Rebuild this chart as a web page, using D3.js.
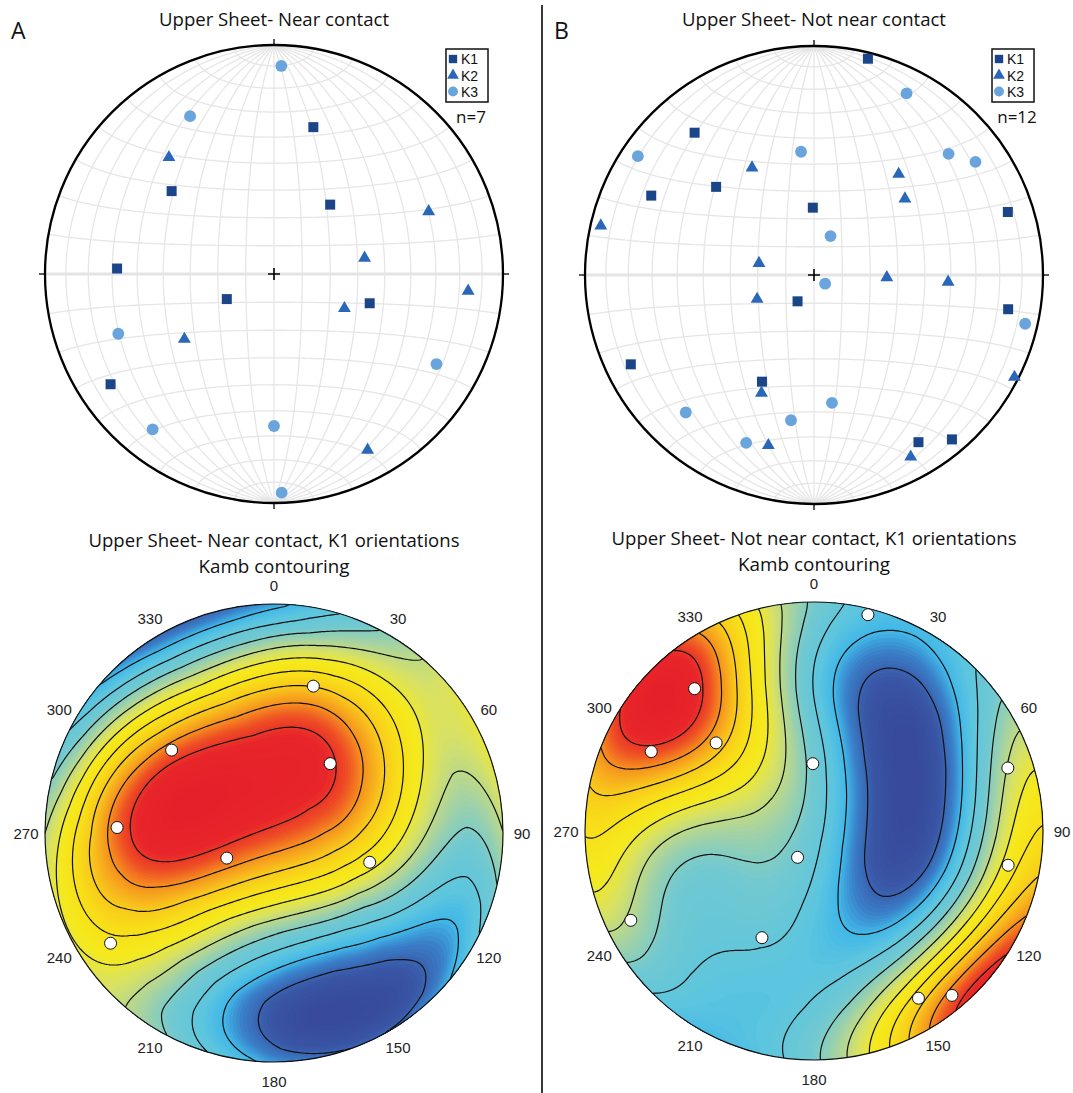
<!DOCTYPE html>
<html>
<head>
<meta charset="utf-8">
<script src="https://cdn.jsdelivr.net/npm/d3@7"></script>
<style>
  body { margin: 0; background: #fff; }
  svg { display: block; }
</style>
</head>
<body>
<svg id="fig" width="1073" height="1093"></svg>
<script>
// AMS principal axes as [trend, plunge] in degrees, lower-hemisphere.
// Upper sheet, near contact (n = 7)
const nearK1 = [[15,34],[309,42],[39,58],[272,32],[242,71],[107,54],[236,15]];
const nearK2 = [[318,32],[68,28],[80,57],[95,16],[116,62],[234,50],[152,14]];
const nearK3 = [[2,10],[332,23],[249,28],[119,20],[218,15],[180,34],[178,5]];

// Upper sheet, not near contact (n = 12)
const farK1 = [[14,3],[320,20],[296,22],[312,42],[359,66],[72,12],[212,79],[100,15],[244,12],[206,47],[148,15],[140,7]];
const farK2 = [[283,5],[330,45],[40,42],[50,47],[282,70],[92,64],[93,41],[247,68],[204,43],[117,2],[195,24],[152,11]];
const farK3 = [[27,12],[304,8],[354,45],[48,22],[55,15],[23,75],[128,85],[103,6],[223,19],[172,43],[189,36],[202,22]];

const azimuthLabels = [0, 30, 60, 90, 120, 150, 180, 210, 240, 270, 300, 330];
const seriesNames = ["K1", "K2", "K3"];

const W = 1073, H = 1093;
const svg = d3.select("#fig");
svg.append("rect").attr("width", W).attr("height", H).attr("fill", "#fff");

const RAD = Math.PI / 180;
const TITLE_FONT = "'Open Sans', 'Noto Sans', sans-serif";
const LABEL_FONT = "'Liberation Sans', Arial, sans-serif";
const LEGEND_FONT = "'Liberation Sans Narrow', 'Liberation Sans', sans-serif";
const markerStyle = {
  K1: { type: d3.symbolSquare, size: 100, fill: "#1b4589" },
  K2: { type: d3.symbolTriangle, size: 72, fill: "#2b67b9" },
  K3: { type: d3.symbolCircle, size: 110, fill: "#69a5dc" }
};

// unit vector (east, north, down) of a line
function toVec(trend, plunge) {
  const t = trend * RAD, p = plunge * RAD;
  return [Math.cos(p) * Math.sin(t), Math.cos(p) * Math.cos(t), Math.sin(p)];
}
// a line on the pole-centred (lower hemisphere) equal-area projection
const lineToGeo = ([trend, plunge]) => [180 - trend, plunge];

function projections(cx, cy, R) {
  const s = R / Math.SQRT2;
  // equatorial aspect: Schmidt net graticule
  const net = d3.geoAzimuthalEqualArea().rotate([0, 0]).clipAngle(90)
    .scale(s).translate([cx, cy]).precision(0.1);
  // polar aspect: plotting lines by trend/plunge
  const lower = d3.geoAzimuthalEqualArea().rotate([0, -90]).clipAngle(90)
    .scale(s).translate([cx, cy]);
  return { net, lower };
}

let clipId = 0;

// ---------- Schmidt net with K1/K2/K3 axes ----------
function drawNet({ cx, cy, R, sets, n, title, letter, legend, titleLen }) {
  const { net, lower } = projections(cx, cy, R);
  const g = svg.append("g");
  const path = d3.geoPath(net);

  const grat = d3.geoGraticule()
    .extentMinor([[-180, -90], [180, 90]])
    .extentMajor([[-180, -90], [180, 90]])
    .step([10, 10]).stepMajor([90, 360]).precision(1);
  g.append("path").datum(grat()).attr("d", path)
    .attr("fill", "none").attr("stroke", "#e6e6e6").attr("stroke-width", 1.3);

  // equator drawn a little heavier
  g.append("path")
    .datum({ type: "LineString", coordinates: [[-90, 0], [0, 0], [90, 0]] })
    .attr("d", path).attr("fill", "none").attr("stroke", "#e4e4e4").attr("stroke-width", 3.2);

  // primitive circle, N/E/S/W ticks and centre cross
  g.append("circle").attr("cx", cx).attr("cy", cy).attr("r", R)
    .attr("fill", "none").attr("stroke", "#000").attr("stroke-width", 2.3);
  const tk = 6;
  [[0, -1], [1, 0], [0, 1], [-1, 0]].forEach(([ux, uy]) => {
    g.append("line")
      .attr("x1", cx + ux * (R - 1)).attr("y1", cy + uy * (R - 1))
      .attr("x2", cx + ux * (R + tk)).attr("y2", cy + uy * (R + tk))
      .attr("stroke", "#000").attr("stroke-width", 1.3);
  });
  g.append("path").attr("d", `M${cx - 6},${cy}H${cx + 6}M${cx},${cy - 6}V${cy + 6}`)
    .attr("stroke", "#000").attr("stroke-width", 1.6);

  // markers
  sets.forEach((pts, i) => {
    const st = markerStyle[seriesNames[i]];
    const shape = d3.symbol().type(st.type).size(st.size)();
    g.append("g").selectAll("path").data(pts).join("path")
      .attr("transform", d => { const [x, y] = lower(lineToGeo(d)); return `translate(${x},${y})`; })
      .attr("d", shape).attr("fill", st.fill);
  });

  // title and panel letter
  g.append("text").attr("x", cx).attr("y", 26).attr("text-anchor", "middle")
    .attr("font-family", TITLE_FONT).attr("font-size", 18).attr("fill", "#111")
    .attr("textLength", titleLen).attr("lengthAdjust", "spacingAndGlyphs").text(title);
  g.append("text").attr("x", letter.x).attr("y", 39)
    .attr("font-family", TITLE_FONT).attr("font-size", 23).attr("fill", "#111").text(letter.t);

  // legend box
  const lg = g.append("g").attr("transform", `translate(${legend.x},${legend.y})`);
  lg.append("rect").attr("width", 42).attr("height", 53)
    .attr("fill", "#fff").attr("stroke", "#111").attr("stroke-width", 1.5);
  const legendSize = [70, 60, 78];
  seriesNames.forEach((name, i) => {
    const st = markerStyle[name];
    const yy = 10 + i * 16.3;
    lg.append("path").attr("transform", `translate(7,${yy})`)
      .attr("d", d3.symbol().type(st.type).size(legendSize[i])()).attr("fill", st.fill);
    lg.append("text").attr("x", 15).attr("y", yy + 5.2)
      .attr("font-family", LEGEND_FONT).attr("font-size", 14).attr("fill", "#111").text(name);
  });
  g.append("text").attr("x", legend.x + 25).attr("y", 123).attr("text-anchor", "middle")
    .attr("font-family", TITLE_FONT).attr("font-size", 17).attr("fill", "#111").text(`n=${n}`);
}

// ---------- exponential Kamb density of K1 axes ----------
const densityColor = d3.scaleLinear()
  .domain([0, 0.07, 0.13, 0.18, 0.24, 0.34, 0.42, 0.5, 0.57, 0.66, 0.74, 0.82, 0.88, 0.93, 1])
  .range(["#37499b", "#3a56a6", "#3a7fc8", "#40b8e8", "#5cc5df", "#72c9d0", "#a8d3a0",
          "#d9e263", "#f5e91d", "#f8de19", "#f8c61c", "#f5901f", "#ee4c25", "#e8262a", "#e6202a"])
  .interpolate(d3.interpolateRgb).clamp(true);

function drawKamb({ cx, cy, R, axes, title1, title2, len1, len2 }) {
  const { lower } = projections(cx, cy, R);
  const g = svg.append("g");
  const id = "clip" + (clipId++);
  svg.append("defs").append("clipPath").attr("id", id)
    .append("circle").attr("cx", cx).attr("cy", cy).attr("r", R);

  // sample the counting function on a grid covering the net
  const step = 2.5, pad = 3 * step;
  const x0 = cx - R - pad, y0 = cy - R - pad;
  const nx = Math.ceil((2 * R + 2 * pad) / step) + 1;
  const vecs = axes.map(d => toVec(d[0], d[1]));
  const n = axes.length, sigma = 3;
  const kk = 2 * (1 + n / (sigma * sigma));
  const vals = new Array(nx * nx);
  const lim = R * 0.999;
  for (let j = 0; j < nx; j++) {
    for (let i = 0; i < nx; i++) {
      let dx = x0 + i * step - cx, dy = y0 + j * step - cy;
      const d = Math.hypot(dx, dy);
      if (d > lim) { dx *= lim / d; dy *= lim / d; }
      const [lon, lat] = lower.invert([cx + dx, cy + dy]);
      const v = toVec(180 - lon, lat);
      let s = 0;
      for (const u of vecs) s += Math.exp(kk * (Math.abs(v[0] * u[0] + v[1] * u[1] + v[2] * u[2]) - 1));
      vals[j * nx + i] = s;
    }
  }
  const [lo, hi] = d3.extent(vals);
  const gp = d3.geoPath(d3.geoIdentity().scale(step).translate([x0 - step / 2, y0 - step / 2]));

  // continuous colour fill built from fine bands
  const body = g.append("g").attr("clip-path", `url(#${id})`);
  const nb = 110;
  const bandTh = d3.range(nb).map(i => lo + (hi - lo) * i / nb);
  body.append("rect").attr("x", cx - R).attr("y", cy - R).attr("width", 2 * R).attr("height", 2 * R)
    .attr("fill", densityColor(0));
  body.selectAll("path.band")
    .data(d3.contours().size([nx, nx]).thresholds(bandTh)(vals))
    .join("path").attr("class", "band").attr("d", gp)
    .attr("fill", d => densityColor((d.value - lo) / (hi - lo) + 0.5 / nb));

  // contour lines
  const nLines = 11;
  const lineTh = d3.range(1, nLines).map(i => lo + (hi - lo) * i / nLines);
  body.selectAll("path.iso")
    .data(d3.contours().size([nx, nx]).thresholds(lineTh)(vals))
    .join("path").attr("class", "iso").attr("d", gp)
    .attr("fill", "none").attr("stroke", "#111").attr("stroke-width", 1.2);

  g.append("circle").attr("cx", cx).attr("cy", cy).attr("r", R)
    .attr("fill", "none").attr("stroke", "#111").attr("stroke-width", 1.2);

  g.append("g").selectAll("circle").data(axes).join("circle")
    .attr("cx", d => lower(lineToGeo(d))[0]).attr("cy", d => lower(lineToGeo(d))[1])
    .attr("r", 6).attr("fill", "#fff").attr("stroke", "#111").attr("stroke-width", 1);

  // azimuth labels round the primitive
  const lr = R + 19;
  g.append("g").selectAll("text").data(azimuthLabels).join("text")
    .attr("x", a => cx + lr * Math.sin(a * RAD)).attr("y", a => cy - lr * Math.cos(a * RAD))
    .attr("text-anchor", "middle").attr("dominant-baseline", "central")
    .attr("font-family", LABEL_FONT).attr("font-size", 15).attr("fill", "#222").text(a => a);

  g.append("text").attr("x", cx).attr("y", cy - 286).attr("text-anchor", "middle")
    .attr("font-family", TITLE_FONT).attr("font-size", 18).attr("fill", "#111")
    .attr("textLength", len1).attr("lengthAdjust", "spacingAndGlyphs").text(title1);
  g.append("text").attr("x", cx).attr("y", cy - 260).attr("text-anchor", "middle")
    .attr("font-family", TITLE_FONT).attr("font-size", 18).attr("fill", "#111")
    .attr("textLength", len2).attr("lengthAdjust", "spacingAndGlyphs").text(title2);
}

// ---------- panels ----------
drawNet({ cx: 274, cy: 274, R: 229, sets: [nearK1, nearK2, nearK3], n: nearK1.length,
  title: "Upper Sheet- Near contact", titleLen: 230, letter: { x: 11, t: "A" }, legend: { x: 446, y: 49 } });
drawNet({ cx: 814, cy: 275, R: 229, sets: [farK1, farK2, farK3], n: farK1.length,
  title: "Upper Sheet- Not near contact", titleLen: 264, letter: { x: 554, t: "B" }, legend: { x: 992, y: 49 } });
drawKamb({ cx: 274, cy: 833, R: 229, axes: nearK1,
  title1: "Upper Sheet- Near contact, K1 orientations", len1: 371, title2: "Kamb contouring", len2: 151 });
drawKamb({ cx: 814, cy: 831, R: 229, axes: farK1,
  title1: "Upper Sheet- Not near contact, K1 orientations", len1: 405, title2: "Kamb contouring", len2: 152 });

// divider between the A and B columns
svg.append("line").attr("x1", 542).attr("x2", 542).attr("y1", 5).attr("y2", H)
  .attr("stroke", "#222").attr("stroke-width", 1.8);
</script>
</body>
</html>
